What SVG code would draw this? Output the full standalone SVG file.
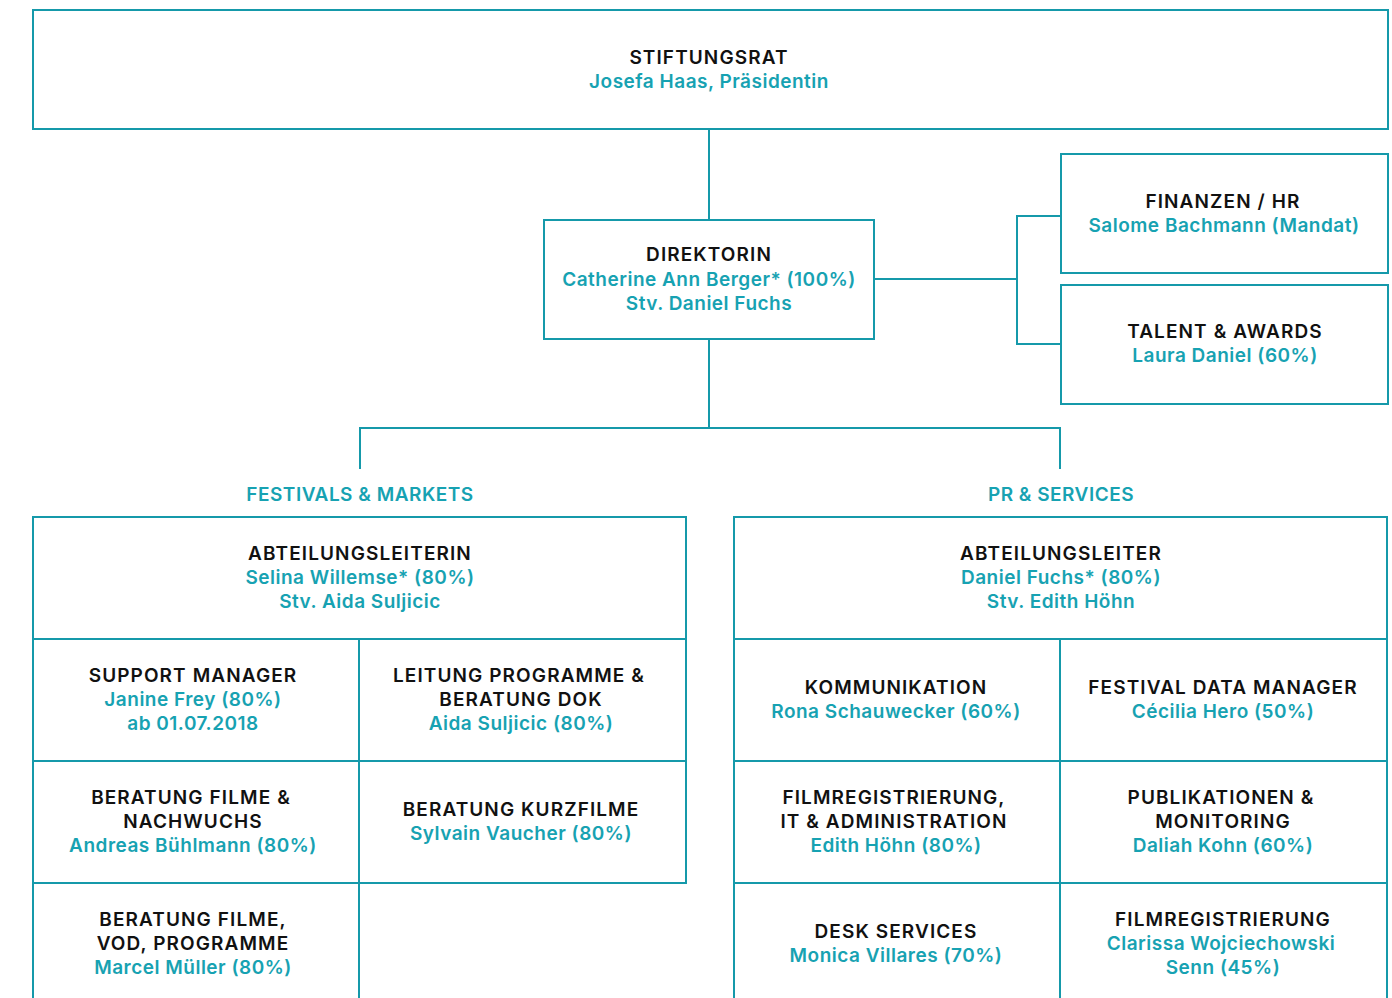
<svg xmlns="http://www.w3.org/2000/svg" width="1392" height="998" viewBox="0 0 1392 998">
<style>
.bx{fill:#fff;stroke:#1599aa;stroke-width:2}
.ln{fill:none;stroke:#1599aa;stroke-width:2}
text{font-family:"Inter","Liberation Sans",sans-serif;font-size:19px;text-anchor:middle;font-weight:600}
.h{fill:#111;letter-spacing:1.1px}
.n{fill:#17a2b2;letter-spacing:0.5px}
</style>
<rect width="1392" height="998" fill="#fff"/>
<g id="connectors">
<path class="ln" d="M709 129V220"/>
<path class="ln" d="M874 279H1017M1061 216H1017V344H1061"/>
<path class="ln" d="M709 339V428M360 469V428H1060V469"/>
</g>
<g id="stiftungsrat">
<rect class="bx" x="33" y="10" width="1355" height="119"/>
<text class="h" x="709" y="64">STIFTUNGSRAT</text>
<text class="n" x="709" y="88">Josefa Haas, Präsidentin</text>
</g>
<g id="direktorin">
<rect class="bx" x="544" y="220" width="330" height="119"/>
<text class="h" x="709" y="261">DIREKTORIN</text>
<text class="n" x="709" y="286">Catherine Ann Berger* (100%)</text>
<text class="n" x="709" y="310">Stv. Daniel Fuchs</text>
</g>
<g id="finanzen">
<rect class="bx" x="1061" y="154" width="327" height="119"/>
<text class="h" x="1223" y="208">FINANZEN / HR</text>
<text class="n" x="1224" y="232">Salome Bachmann (Mandat)</text>
</g>
<g id="talent">
<rect class="bx" x="1061" y="285" width="327" height="119"/>
<text class="h" x="1225" y="338">TALENT &amp; AWARDS</text>
<text class="n" x="1225" y="362">Laura Daniel (60%)</text>
</g>
<g id="festivals-label">
<text class="n" x="360" y="501">FESTIVALS &amp; MARKETS</text>
</g>
<g id="pr-label">
<text class="n" x="1061" y="501">PR &amp; SERVICES</text>
</g>
<g id="festivals-grid">
<path class="ln" d="M33 998V517H686V883H33M33 639H686M33 761H686M359 639V998"/>
</g>
<g id="pr-grid">
<path class="ln" d="M734 998V517H1387V998M734 639H1387M734 761H1387M734 883H1387M1060 639V998"/>
</g>
<g id="abteilungsleiterin">
<text class="h" x="360" y="560">ABTEILUNGSLEITERIN</text>
<text class="n" x="360" y="584">Selina Willemse* (80%)</text>
<text class="n" x="360" y="608">Stv. Aida Suljicic</text>
</g>
<g id="support">
<text class="h" x="193" y="682">SUPPORT MANAGER</text>
<text class="n" x="193" y="706">Janine Frey (80%)</text>
<text class="n" x="193" y="730">ab 01.07.2018</text>
</g>
<g id="leitung">
<text class="h" x="519" y="682">LEITUNG PROGRAMME &amp;</text>
<text class="h" x="521" y="706">BERATUNG DOK</text>
<text class="n" x="521" y="730">Aida Suljicic (80%)</text>
</g>
<g id="beratung-nachwuchs">
<text class="h" x="191" y="804">BERATUNG FILME &amp;</text>
<text class="h" x="193" y="828">NACHWUCHS</text>
<text class="n" x="193" y="852">Andreas Bühlmann (80%)</text>
</g>
<g id="kurzfilme">
<text class="h" x="521" y="816">BERATUNG KURZFILME</text>
<text class="n" x="521" y="840">Sylvain Vaucher (80%)</text>
</g>
<g id="vod">
<text class="h" x="193" y="926">BERATUNG FILME,</text>
<text class="h" x="193" y="950">VOD, PROGRAMME</text>
<text class="n" x="193" y="974">Marcel Müller (80%)</text>
</g>
<g id="abteilungsleiter">
<text class="h" x="1061" y="560">ABTEILUNGSLEITER</text>
<text class="n" x="1061" y="584">Daniel Fuchs* (80%)</text>
<text class="n" x="1061" y="608">Stv. Edith Höhn</text>
</g>
<g id="kommunikation">
<text class="h" x="896" y="694">KOMMUNIKATION</text>
<text class="n" x="896" y="718">Rona Schauwecker (60%)</text>
</g>
<g id="datamanager">
<text class="h" x="1223" y="694">FESTIVAL DATA MANAGER</text>
<text class="n" x="1223" y="718">Cécilia Hero (50%)</text>
</g>
<g id="filmreg-it">
<text class="h" x="894" y="804">FILMREGISTRIERUNG,</text>
<text class="h" x="894" y="828">IT &amp; ADMINISTRATION</text>
<text class="n" x="896" y="852">Edith Höhn (80%)</text>
</g>
<g id="publikationen">
<text class="h" x="1221" y="804">PUBLIKATIONEN &amp;</text>
<text class="h" x="1223" y="828">MONITORING</text>
<text class="n" x="1223" y="852">Daliah Kohn (60%)</text>
</g>
<g id="desk">
<text class="h" x="896" y="938">DESK SERVICES</text>
<text class="n" x="896" y="962">Monica Villares (70%)</text>
</g>
<g id="filmreg">
<text class="h" x="1223" y="926">FILMREGISTRIERUNG</text>
<text class="n" x="1221" y="950">Clarissa Wojciechowski</text>
<text class="n" x="1223" y="974">Senn (45%)</text>
</g>
</svg>
